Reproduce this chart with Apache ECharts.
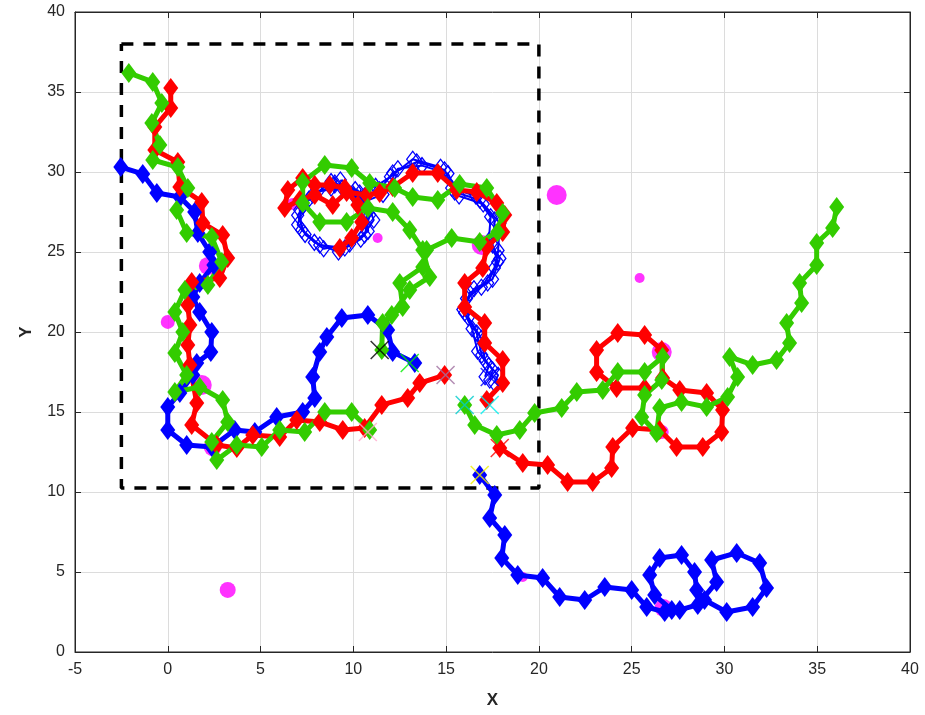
<!DOCTYPE html>
<html><head><meta charset="utf-8">
<script src="https://cdn.jsdelivr.net/npm/echarts@6/dist/echarts.min.js"></script>
<style>html,body{margin:0;padding:0;background:#fff}#c{width:925px;height:715px}</style>
</head><body><div id="c"></div>
<script>
const xTicks = [-5,0,5,10,15,20,25,30,35,40];
const yTicks = [0,5,10,15,20,25,30,35,40];

const blueA = [[-2.53,30.31],[-1.35,29.88],[-0.59,28.69],[0.65,28.44],[1.45,27.5],[1.62,26.19],[2.26,25.0],[2.48,24.19],[1.72,23.06],[1.35,22.19],[1.72,21.25],[2.37,20.0],[2.32,18.75],[1.56,18.06],[1.35,17.31],[0.65,16.19],[0,15.31],[0,13.88],[1.02,12.94],[2.37,12.81],[3.61,13.88],[4.69,13.75],[5.87,14.69],[7.27,15.0],[7.92,15.88],[7.81,17.19],[8.19,18.75],[8.57,19.69],[9.38,20.88],[10.78,21.06],[11.85,20.13],[12.12,18.75],[13.31,18.06]];
const blueB = [[16.81,11.06],[17.62,9.81],[17.35,8.38],[18.16,7.31],[18.0,5.88],[18.86,4.81],[20.2,4.63],[21.12,3.44],[22.47,3.25],[23.55,4.06],[25.0,3.88],[25.81,2.81],[26.78,2.5],[27.59,2.63],[28.56,2.94],[29.58,4.38],[29.31,5.75],[30.66,6.19],[31.9,5.56],[32.27,4.0],[31.52,2.81],[30.12,2.5],[28.93,3.25],[28.5,3.88],[28.39,5.0],[27.69,6.06],[26.51,5.88],[25.97,4.81],[26.24,3.56],[27.16,2.63]];
const blueHollow1 = [[9.0,29.31],[10.34,28.69],[10.88,27.31],[10.61,26.06],[9.54,25.25],[8.19,25.44],[7.22,26.38],[7.11,27.63],[7.81,28.56],[9.0,29.19],[10.24,28.38],[11.42,28.88],[12.12,29.94],[13.42,30.63],[14.92,30.13],[15.46,28.75],[16.81,28.25],[17.62,27.0],[17.51,25.44],[17.78,24.38],[17.24,23.06],[16.27,22.44],[16.0,21.19],[16.65,19.94],[16.92,18.56],[17.51,17.63],[17.35,17.0]];
const blueHollow2 = [[9.3,29.5],[10.6,28.5],[11.1,27.0],[10.4,25.8],[9.2,25.0],[7.9,25.6],[7.0,26.7],[7.3,27.9],[8.1,28.8],[9.4,29.0],[10.5,28.1],[11.6,28.6],[12.4,30.2],[13.7,30.4],[15.1,29.9],[15.7,28.5],[17.0,28.0],[17.9,26.8],[17.8,25.1],[17.6,24.0],[16.9,22.8],[16.1,22.1],[16.2,20.9],[16.9,19.6],[17.1,18.2],[17.8,17.3],[17.6,16.8]];
const blueHollow3 = [[8.8,29.0],[10.1,28.9],[10.7,27.5],[10.8,26.3],[9.8,25.5],[8.4,25.2],[7.4,26.1],[7.0,27.3],[7.6,28.3],[8.8,29.4],[10.0,28.6],[11.2,29.1],[12.0,29.7],[13.2,30.8],[14.7,30.3],[15.3,29.0],[16.6,28.5],[17.4,27.2],[17.3,25.7],[17.9,24.6],[17.5,23.3],[16.5,22.7],[15.9,21.4],[16.4,20.2],[16.7,18.8],[17.3,17.9],[17.1,17.2]];
const redA = [[0.16,35.25],[0.16,34.0],[-0.7,32.81],[-0.7,31.38],[0.54,30.63],[0.65,29.06],[1.83,28.13],[1.89,26.81],[2.96,26.06],[3.23,24.63],[2.8,23.38],[1.29,23.13],[1.08,21.69],[1.19,20.44],[1.08,19.19],[1.19,17.94],[1.56,15.56],[1.29,14.19],[2.64,12.94],[3.72,12.75],[4.58,13.56],[6.03,13.44],[6.95,14.5],[8.19,14.38],[9.43,13.88],[10.61,14.0],[11.53,15.44],[12.93,15.88],[13.58,16.81],[14.92,17.31]];
const redB = [[9.27,25.25],[9.91,25.88],[10.45,26.88],[10.24,27.94],[9.54,29.0],[8.73,29.19],[7.92,29.19],[7.27,29.63],[6.47,28.88],[6.3,27.75],[7.11,28.25],[7.92,28.56],[8.89,27.94],[9.64,28.75],[10.72,28.56],[11.42,28.69],[12.12,29.06],[13.2,29.94],[14.55,29.94],[15.57,28.88],[16.65,28.75],[17.73,28.06],[18.16,27.31],[18.05,26.25],[17.19,25.31],[16.97,24.0],[16.0,23.06],[16.0,21.56],[17.08,20.56],[17.08,19.31],[18.05,18.25],[18.05,16.81],[17.19,15.75]];
const redC = [[17.89,12.75],[19.13,11.81],[20.47,11.69],[21.55,10.63],[22.9,10.63],[23.92,11.5],[23.98,12.81],[25.05,14.0],[26.51,13.88],[27.42,12.81],[28.83,12.81],[29.85,13.75],[29.9,15.13],[29.04,16.19],[27.59,16.38],[26.67,17.13],[26.62,18.88],[25.7,19.81],[24.25,19.94],[23.11,18.88],[23.11,17.5],[24.19,16.5],[25.7,16.5]];
const greenA = [[-2.1,36.19],[-0.81,35.63],[-0.32,34.31],[-0.86,33.06],[-0.43,31.69],[-0.81,30.75],[0.54,30.31],[1.08,29.0],[0.48,27.63],[1.02,26.19],[2.37,25.94],[2.91,24.38],[2.16,22.94],[0.92,22.63],[0.38,21.25],[0.81,20.0],[0.38,18.69],[1.02,17.31],[0.38,16.25],[1.72,16.56],[2.96,15.75],[3.23,14.38],[2.37,13.13],[2.64,12.0],[3.72,12.94],[5.06,12.81],[6.03,13.88],[7.38,13.75],[8.46,15.0],[9.91,15.0],[10.88,13.88]];
const greenB = [[11.53,18.88],[11.58,20.56],[12.66,21.56],[12.5,23.06],[13.74,24.06],[13.95,25.13],[15.3,25.88],[16.81,25.63],[17.78,26.25],[18.05,27.44],[17.19,29.0],[15.73,29.25],[14.55,28.25],[13.2,28.44],[12.23,29.0],[10.88,29.31],[9.91,30.25],[8.46,30.44],[7.27,29.38],[7.27,28.06],[8.19,26.88],[9.64,26.88],[10.78,27.75],[12.12,27.5],[13.04,26.38],[13.74,25.13],[14.12,23.44],[13.04,22.63],[12.07,21.06]];
const greenC = [[16.0,15.44],[16.54,14.19],[17.73,13.56],[18.97,13.88],[19.77,14.94],[21.23,15.25],[22.04,16.25],[23.44,16.38],[24.25,17.5],[25.7,17.5],[26.67,18.44],[26.62,17.0],[25.7,16.06],[25.54,14.69],[26.35,13.69],[26.51,15.25],[27.69,15.63],[29.04,15.31],[30.17,15.94],[30.71,17.19],[30.28,18.44],[31.52,17.94],[32.81,18.25],[33.51,19.31],[33.35,20.56],[34.16,21.81],[34.05,23.06],[34.97,24.19],[34.97,25.56],[35.83,26.5],[36.05,27.81]];
const dots = [[20.96,28.56],[11.31,25.88],[16.92,25.44],[25.43,23.38],[2.16,24.13],[0,20.63],[1.83,16.69],[2.42,12.81],[6.73,28.0],[26.62,18.75],[26.62,13.75],[3.23,3.88],[19.13,4.69],[26.72,2.75]];
const dotRadius = [10,5,10,5,9,7,10,9,6,10,7,8,5,9];
const crosses = [[11.42,18.88],[13.04,18.06],[14.97,17.31],[16.0,15.44],[17.35,15.44],[16.81,11.06],[17.89,12.75],[10.78,13.75],[17.35,17.19]];
const crossColors = ['#000000','#00ee00','#a070a0','#00cccc','#00eeee','#eeee00','#ff0000','#ffaacc','#0000ff'];
const boxX = [-2.5,20,20,-2.5,-2.5];
const boxY = [38,38,10.25,10.25,38];

const BLUE='#0000ff', RED='#ff0000', GREEN='#33cc00';
const chart = echarts.init(document.getElementById('c'));
const font = 'Liberation Sans, Arial, sans-serif';
function thick(data,color){
  return {type:'line',data,symbol:'diamond',symbolSize:[15,20],showSymbol:true,
    lineStyle:{color,width:5},itemStyle:{color},z:3,silent:true};
}
function hollow(data){
  return {type:'line',data,symbol:'diamond',symbolSize:[12,16],
    lineStyle:{color:BLUE,width:2},itemStyle:{color:'rgba(255,255,255,0)',borderColor:BLUE,borderWidth:1.3},z:2,silent:true};
}
const axisCommon = {axisLine:{onZero:false,lineStyle:{color:'#262626',width:1}},axisTick:{inside:true,length:6,lineStyle:{color:'#262626'}}};
chart.setOption({
  animation:false,
  grid:{left:75,right:15,top:12,bottom:63,show:true,borderColor:'#262626',borderWidth:1},
  xAxis:[{type:'value',min:-5,max:40,interval:5,position:'bottom',...axisCommon,
    axisLabel:{color:'#262626',fontSize:16,fontFamily:font,margin:10,formatter:v=>xTicks.includes(v)?String(v):''},
    splitLine:{show:true,lineStyle:{color:'#dcdcdc',width:1}},
    name:'X',nameLocation:'middle',nameGap:40,nameTextStyle:{fontWeight:'bold',fontSize:17,color:'#262626',fontFamily:font}},
    {type:'value',min:-5,max:40,interval:5,position:'top',...axisCommon,axisLabel:{show:false},splitLine:{show:false}}],
  yAxis:[{type:'value',min:0,max:40,interval:5,position:'left',...axisCommon,
    axisLabel:{color:'#262626',fontSize:16,fontFamily:font,margin:10,formatter:v=>yTicks.includes(v)?String(v):''},
    splitLine:{show:true,lineStyle:{color:'#dcdcdc',width:1}},
    name:'Y',nameLocation:'middle',nameGap:40,nameTextStyle:{fontWeight:'bold',fontSize:17,color:'#262626',fontFamily:font}},
    {type:'value',min:0,max:40,interval:5,position:'right',...axisCommon,axisLabel:{show:false},splitLine:{show:false}}],
  series:[
    {type:'scatter',data:dots,symbol:'circle',symbolSize:(v,p)=>dotRadius[p.dataIndex]*2,itemStyle:{color:'#ff00ff'},z:1,silent:true},
    {type:'line',data:boxX.map((x,i)=>[x,boxY[i]]),symbol:'none',lineStyle:{color:'#000',width:3.5,type:[12,10]},z:2,silent:true},
    hollow(blueHollow1), hollow(blueHollow2), hollow(blueHollow3),
    thick(blueA,BLUE), thick(blueB,BLUE),
    thick(redA,RED), thick(redB,RED), thick(redC,RED),
    thick(greenA,GREEN), thick(greenB,GREEN), thick(greenC,GREEN),
    {type:'scatter',data:crosses.map((c,i)=>({value:c,itemStyle:{borderColor:crossColors[i]}})),
      symbol:'path://M0,0 L10,10 M10,0 L0,10',symbolSize:18,
      itemStyle:{color:'none',borderWidth:1.5},z:5,silent:true}
  ]
});
</script></body></html>
